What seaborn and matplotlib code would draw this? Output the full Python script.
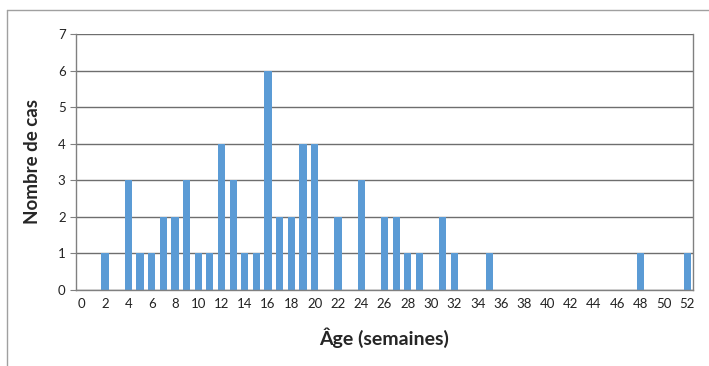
import matplotlib
matplotlib.use("Agg")
import matplotlib.pyplot as plt
from matplotlib.lines import Line2D
import seaborn as sns
import pandas as pd
import numpy as np

ages = list(range(0, 53))
cases = [0, 0, 1, 0, 3, 1, 1, 2, 2, 3,
         1, 1, 4, 3, 1, 1, 6, 2, 2, 4,
         4, 0, 2, 0, 3, 0, 2, 2, 1, 1,
         0, 2, 1, 0, 0, 1, 0, 0, 0, 0,
         0, 0, 0, 0, 0, 0, 0, 0, 1, 0,
         0, 0, 1]
tick_labels = [str(a) if a % 2 == 0 else "" for a in ages]

df = pd.DataFrame({"age": ages, "cas": cases})

sns.set_theme(style="white")
plt.rcParams["font.family"] = ["Lato", "DejaVu Sans"]

fig = plt.figure(figsize=(7.09, 3.66), dpi=100)
ax = fig.add_axes([76 / 709, 1 - 290 / 366, 617 / 709, 256 / 366])

sns.barplot(data=df, x="age", y="cas", order=ages, color="#5B9BD5",
            saturation=1, width=0.62, linewidth=0, ax=ax)

ax.set_ylim(0, 7)
ax.set_xlim(-0.5, len(ages) - 0.5)
ax.set_yticks(range(0, 8))
ax.yaxis.grid(True, color="#6e6e6e", linewidth=1.0)
ax.set_axisbelow(True)

ax.set_xticks(range(len(ages)))
ax.set_xticklabels(tick_labels)
ax.set_xticks(np.arange(-0.5, len(ages), 1), minor=True)
ax.tick_params(axis="x", which="major", length=0, labelsize=9.5, pad=6, colors="#222222")
ax.tick_params(axis="x", which="minor", length=4, color="#808080", width=0.8, direction="out")
ax.tick_params(axis="y", which="major", length=4, color="#808080", width=0.8,
               labelsize=9.5, left=True, direction="out")
ax.tick_params(axis="y", colors="#808080", labelcolor="#222222")

for side in ["left", "bottom", "right", "top"]:
    ax.spines[side].set_visible(True)
    ax.spines[side].set_color("#808080")
    ax.spines[side].set_linewidth(1.0)
ax.spines["top"].set_visible(False)

ax.set_xlabel("Âge (semaines)", fontsize=14, fontweight="bold", labelpad=12)
ax.set_ylabel("Nombre de cas", fontsize=13.5, fontweight="bold", labelpad=12)

# outer frame lines
fig.add_artist(Line2D([7 / 709, 1], [1 - 10 / 366, 1 - 10 / 366], color="#a0a0a0", linewidth=1, transform=fig.transFigure))
fig.add_artist(Line2D([7 / 709, 7 / 709], [1 - 10 / 366, 0], color="#a0a0a0", linewidth=1, transform=fig.transFigure))

fig.savefig("out.png", dpi=100)
